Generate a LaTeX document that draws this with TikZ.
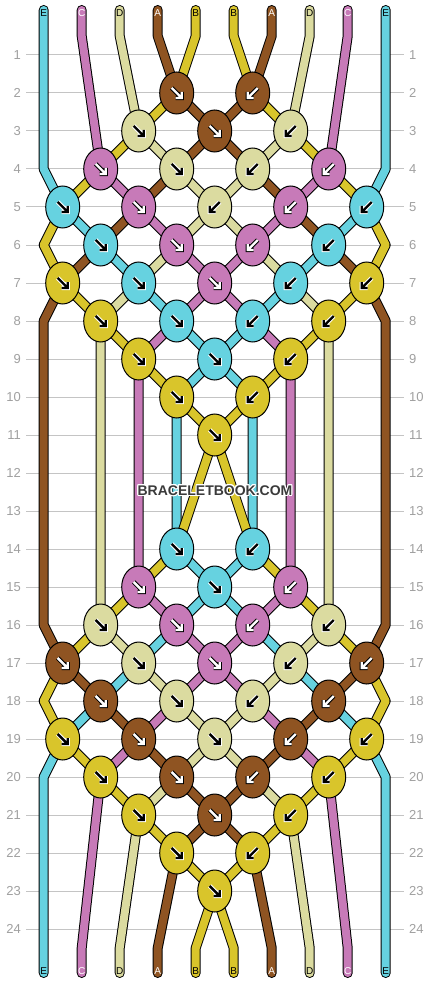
\documentclass[tikz,border=0pt]{standalone}
\usepackage{fontspec}
\setmainfont{Liberation Sans}
\usepackage{contour}
\contourlength{1pt}
\contournumber{16}
\usetikzlibrary{shapes.geometric}
\definecolor{cA}{HTML}{8F5422}
\definecolor{cB}{HTML}{D9C52B}
\definecolor{cC}{HTML}{C77AB8}
\definecolor{cD}{HTML}{DBDBA0}
\definecolor{cE}{HTML}{66D2E0}
\definecolor{gridc}{HTML}{C4C4C4}
\definecolor{labc}{HTML}{A0A0A0}
\definecolor{wmark}{HTML}{3A3A3A}
\tikzset{
 strandout/.style={draw=black,line width=10pt,line cap=round,line join=round},
 strandin/.style={line width=8pt,line cap=round,line join=round},
 knotnode/.style={ellipse,draw=black,line width=1pt,minimum width=34pt,minimum height=42pt,inner sep=0pt},
 gridline/.style={draw=gridc,line width=1pt},
 rowlab/.style={text=labc,inner sep=0pt,font=\fontsize{13}{13}\selectfont},
 toplab/.style={inner sep=0pt,font=\fontsize{10}{10}\selectfont},
 arrowout/.style={line width=4.4pt,line cap=square,line join=miter},
 arrowin/.style={line width=2.4pt,line cap=square,line join=miter},
 arrinA/.style={draw=white}, arroutA/.style={draw=black},
 arrinC/.style={draw=white}, arroutC/.style={draw=black},
 arrinB/.style={draw=black}, arroutB/.style={draw=white},
 arrinD/.style={draw=black}, arroutD/.style={draw=white},
 arrinE/.style={draw=black}, arroutE/.style={draw=white},
}
\newcommand\strand[2]{\draw[strandout] #2; \draw[strandin,draw=#1] #2;}
\newcommand\kn[4]{%
  \node[knotnode,fill=c#3] (n#1-#2) at (k#1-#2) {};
  \begin{scope}[shift={(n#1-#2.center)}]
    \draw[arrowout,arrout#3] ({-5*#4},-5)--({5*#4},5) ({5*#4},-1)--({5*#4},5)--({-1*#4},5);
    \draw[arrowin,arrin#3] ({-5*#4},-5)--({5*#4},5) ({5*#4},-1)--({5*#4},5)--({-1*#4},5);
  \end{scope}}
\begin{document}
\begin{tikzpicture}[x=1pt,y=-1pt]
\fill[white] (0,0) rectangle (430,984);
\useasboundingbox (0,0) rectangle (430,984);
\foreach \r in {1,...,24}{
  \foreach \j in {1,...,9}{\coordinate (k\r-\j) at ({62.7+38*(\j-1)},{17+38*\r});}
  \coordinate (L\r) at (43.7,{17+38*\r});
  \coordinate (R\r) at (385.7,{17+38*\r});
}
\foreach \k in {1,...,10}{
  \coordinate (ss\k) at ({43.7+38*(\k-1)},10);
  \coordinate (s\k) at ({43.7+38*(\k-1)},36);
  \coordinate (t\k) at ({43.7+38*(\k-1)},948);
  \coordinate (tt\k) at ({43.7+38*(\k-1)},973);
}
% grid and row numbers
\foreach \r in {1,...,24}{
  \draw[gridline] (26,{17+38*\r}) -- (404,{17+38*\r});
  \node[rowlab,anchor=east] (ll\r) at (21,{17+38*\r}) {\r};
  \node[rowlab,anchor=west] (rl\r) at (409,{17+38*\r}) {\r};
}
% strands
\strand{cE}{(ss1)--(s1)--(L2)--(L4)--(k5-1)--(k6-2)--(k7-3)--(k8-4)--(k9-5)--(k10-6)--(k14-6)--(k15-5)--(k16-4)--(k17-3)--(k18-2)--(k19-1)--(L20)--(L24)--(t1)--(tt1)}
\strand{cE}{(ss10)--(s10)--(R2)--(R4)--(k5-9)--(k6-8)--(k7-7)--(k8-6)--(k9-5)--(k10-4)--(k14-4)--(k15-5)--(k16-6)--(k17-7)--(k18-8)--(k19-9)--(R20)--(R24)--(t10)--(tt10)}
\strand{cC}{(ss2)--(s2)--(k4-2)--(k5-3)--(k6-4)--(k7-5)--(k8-6)--(k9-7)--(k15-7)--(k16-6)--(k17-5)--(k18-4)--(k19-3)--(k20-2)--(t2)--(tt2)}
\strand{cC}{(ss9)--(s9)--(k4-8)--(k5-7)--(k6-6)--(k7-5)--(k8-4)--(k9-3)--(k15-3)--(k16-4)--(k17-5)--(k18-6)--(k19-7)--(k20-8)--(t9)--(tt9)}
\strand{cD}{(ss3)--(s3)--(k3-3)--(k4-4)--(k5-5)--(k6-6)--(k7-7)--(k8-8)--(k16-8)--(k17-7)--(k18-6)--(k19-5)--(k20-4)--(k21-3)--(t3)--(tt3)}
\strand{cD}{(ss8)--(s8)--(k3-7)--(k4-6)--(k5-5)--(k6-4)--(k7-3)--(k8-2)--(k16-2)--(k17-3)--(k18-4)--(k19-5)--(k20-6)--(k21-7)--(t8)--(tt8)}
\strand{cA}{(ss4)--(s4)--(k2-4)--(k3-5)--(k4-6)--(k5-7)--(k6-8)--(k7-9)--(R8)--(R16)--(k17-9)--(k18-8)--(k19-7)--(k20-6)--(k21-5)--(k22-4)--(t4)--(tt4)}
\strand{cA}{(ss7)--(s7)--(k2-6)--(k3-5)--(k4-4)--(k5-3)--(k6-2)--(k7-1)--(L8)--(L16)--(k17-1)--(k18-2)--(k19-3)--(k20-4)--(k21-5)--(k22-6)--(t7)--(tt7)}
\strand{cB}{(ss5)--(s5)--(k2-4)--(k3-3)--(k4-2)--(k5-1)--(L6)--(k7-1)--(k8-2)--(k9-3)--(k10-4)--(k11-5)--(k14-6)--(k15-7)--(k16-8)--(k17-9)--(R18)--(k19-9)--(k20-8)--(k21-7)--(k22-6)--(k23-5)--(t5)--(tt5)}
\strand{cB}{(ss6)--(s6)--(k2-6)--(k3-7)--(k4-8)--(k5-9)--(R6)--(k7-9)--(k8-8)--(k9-7)--(k10-6)--(k11-5)--(k14-4)--(k15-3)--(k16-2)--(k17-1)--(L18)--(k19-1)--(k20-2)--(k21-3)--(k22-4)--(k23-5)--(t6)--(tt6)}
% knots
\kn{2}{4}{A}{1}\kn{2}{6}{A}{-1}
\kn{3}{3}{D}{1}\kn{3}{5}{A}{1}\kn{3}{7}{D}{-1}
\kn{4}{2}{C}{1}\kn{4}{4}{D}{1}\kn{4}{6}{D}{-1}\kn{4}{8}{C}{-1}
\kn{5}{1}{E}{1}\kn{5}{3}{C}{1}\kn{5}{5}{D}{-1}\kn{5}{7}{C}{-1}\kn{5}{9}{E}{-1}
\kn{6}{2}{E}{1}\kn{6}{4}{C}{1}\kn{6}{6}{C}{-1}\kn{6}{8}{E}{-1}
\kn{7}{1}{B}{1}\kn{7}{3}{E}{1}\kn{7}{5}{C}{1}\kn{7}{7}{E}{-1}\kn{7}{9}{B}{-1}
\kn{8}{2}{B}{1}\kn{8}{4}{E}{1}\kn{8}{6}{E}{-1}\kn{8}{8}{B}{-1}
\kn{9}{3}{B}{1}\kn{9}{5}{E}{1}\kn{9}{7}{B}{-1}
\kn{10}{4}{B}{1}\kn{10}{6}{B}{-1}
\kn{11}{5}{B}{1}
\kn{14}{4}{E}{1}\kn{14}{6}{E}{-1}
\kn{15}{3}{C}{1}\kn{15}{5}{E}{1}\kn{15}{7}{C}{-1}
\kn{16}{2}{D}{1}\kn{16}{4}{C}{1}\kn{16}{6}{C}{-1}\kn{16}{8}{D}{-1}
\kn{17}{1}{A}{1}\kn{17}{3}{D}{1}\kn{17}{5}{C}{1}\kn{17}{7}{D}{-1}\kn{17}{9}{A}{-1}
\kn{18}{2}{A}{1}\kn{18}{4}{D}{1}\kn{18}{6}{D}{-1}\kn{18}{8}{A}{-1}
\kn{19}{1}{B}{1}\kn{19}{3}{A}{1}\kn{19}{5}{D}{1}\kn{19}{7}{A}{-1}\kn{19}{9}{B}{-1}
\kn{20}{2}{B}{1}\kn{20}{4}{A}{1}\kn{20}{6}{A}{-1}\kn{20}{8}{B}{-1}
\kn{21}{3}{B}{1}\kn{21}{5}{A}{1}\kn{21}{7}{B}{-1}
\kn{22}{4}{B}{1}\kn{22}{6}{B}{-1}
\kn{23}{5}{B}{1}
% string letters
\foreach \k/\l/\c in {1/E/black,2/C/white,3/D/black,4/A/white,5/B/black,6/B/black,7/A/white,8/D/black,9/C/white,10/E/black}{
  \node[toplab,text=\c] (top\k) at ({43.7+38*(\k-1)},13) {\l};
  \node[toplab,text=\c] (bot\k) at ({43.7+38*(\k-1)},971) {\l};
}
% watermark
\node[inner sep=0pt,text=wmark,font=\bfseries\fontsize{14}{14}\selectfont] (wm) at (215,491) {\contour{white}{BRACELETBOOK.COM}};
\end{tikzpicture}
\end{document}
